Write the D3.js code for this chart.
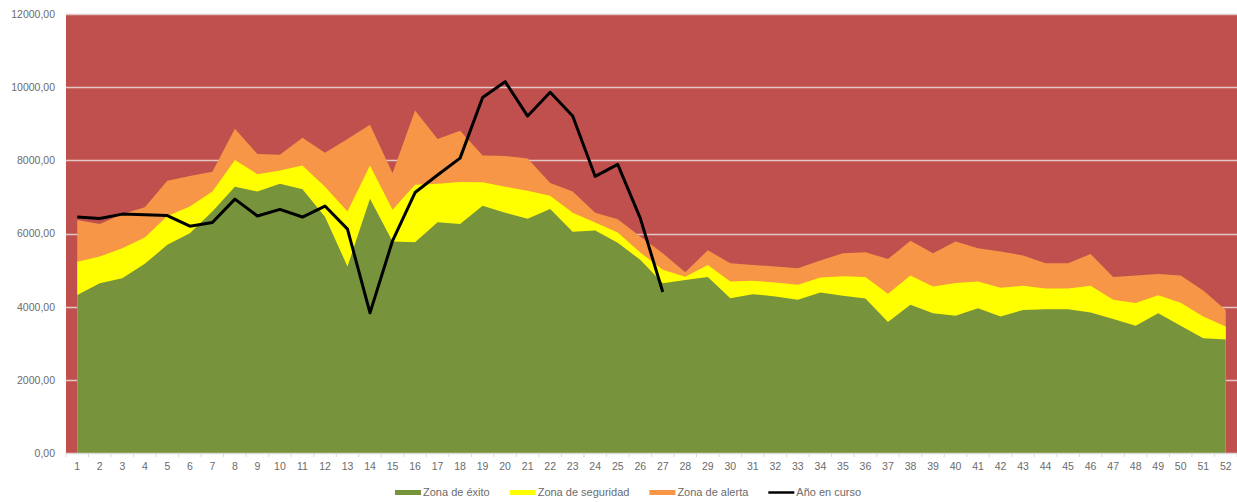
<html>
<head>
<meta charset="UTF-8">
<style>
  body { margin: 0; background: #fff; }
  .axis text { font: 10.5px "Liberation Sans", Arial, sans-serif; fill: #6b6b6b; }
  .legend text { font: 11px "Liberation Sans", Arial, sans-serif; fill: #6b6b6b; }
</style>
<script src="https://cdn.jsdelivr.net/npm/d3@7/dist/d3.min.js"></script>
</head>
<body>
<div class="chart"></div>
<script>

// semanas 1..52
var semanas = d3.range(1, 53);

// limite superior de cada zona
var zonaExito = [4320, 4640, 4780, 5170, 5690, 6010, 6600, 7280, 7150, 7360,
  7210, 6460, 5100, 6950, 5780, 5760, 6310, 6260, 6760, 6570,
  6400, 6670, 6050, 6080, 5750, 5280, 4640, 4730, 4810, 4230,
  4340, 4280, 4190, 4390, 4300, 4220, 3580, 4050, 3820, 3750,
  3960, 3730, 3910, 3930, 3930, 3840, 3660, 3480, 3820, 3480,
  3140, 3100];

var zonaSeguridad = [5230, 5370, 5600, 5890, 6480, 6740, 7150, 8010, 7620, 7720,
  7860, 7280, 6600, 7860, 6650, 7330, 7360, 7410, 7400, 7280,
  7170, 7030, 6570, 6300, 6030, 5480, 5010, 4820, 5140, 4690,
  4710, 4660, 4600, 4800, 4830, 4810, 4350, 4850, 4550, 4650,
  4690, 4520, 4570, 4500, 4500, 4570, 4190, 4100, 4310, 4110,
  3730, 3460];

var zonaAlerta = [6370, 6260, 6530, 6720, 7440, 7570, 7690, 8860, 8170, 8150,
  8620, 8210, 8580, 8970, 7650, 9360, 8580, 8810, 8130, 8120,
  8050, 7380, 7150, 6570, 6390, 5920, 5460, 4940, 5540, 5190,
  5140, 5100, 5050, 5260, 5460, 5490, 5300, 5800, 5460, 5780,
  5600, 5510, 5400, 5190, 5190, 5440, 4810, 4850, 4890, 4850,
  4440, 3910];

var anioEnCurso = [6450, 6410, 6530, 6510, 6490, 6200, 6300, 6940, 6480, 6660,
  6450, 6750, 6120, 3830, 5800, 7120, 7600, 8060, 9720, 10150,
  9210, 9860, 9210, 7560, 7890, 6420, 4400];

var yTicks = [0, 2000, 4000, 6000, 8000, 10000, 12000];

var leyenda = ["Zona de éxito", "Zona de seguridad", "Zona de alerta", "Año en curso"];
var colores = ["#77933c", "#ffff00", "#f79646", "#000000"];

var W = 1237, H = 502;
var margin = {top: 14, right: 0, bottom: 49, left: 66};

var svg = d3.select(".chart").append("svg")
    .attr("width", W)
    .attr("height", H);

var x = d3.scaleBand().domain(semanas).range([margin.left, W - margin.right]);
var y = d3.scaleLinear().domain([0, 12000]).range([H - margin.bottom, margin.top]);
var cx = function(i) { return x(semanas[i]) + x.bandwidth() / 2; };

// fondo rojo del area de trazado
svg.append("rect")
    .attr("x", margin.left)
    .attr("y", y(12000))
    .attr("width", W - margin.right - margin.left)
    .attr("height", y(0) - y(12000))
    .attr("fill", "#c0504d");

// lineas de division
svg.append("g")
    .selectAll("line")
    .data(yTicks.slice(1))
  .enter().append("line")
    .attr("x1", margin.left)
    .attr("x2", W - margin.right)
    .attr("y1", function(d) { return Math.round(y(d)) + 0.5; })
    .attr("y2", function(d) { return Math.round(y(d)) + 0.5; })
    .attr("stroke", "#e3c6c6")
    .attr("stroke-width", 1.3);

var area = d3.area()
    .x(function(d, i) { return cx(i); })
    .y0(y(0))
    .y1(function(d) { return y(d); });

svg.append("path").datum(zonaAlerta).attr("d", area).attr("fill", colores[2]);
svg.append("path").datum(zonaSeguridad).attr("d", area).attr("fill", colores[1]);
svg.append("path").datum(zonaExito).attr("d", area).attr("fill", colores[0]);

var line = d3.line()
    .x(function(d, i) { return cx(i); })
    .y(function(d) { return y(d); });

svg.append("path")
    .datum(anioEnCurso)
    .attr("d", line)
    .attr("fill", "none")
    .attr("stroke", "#000")
    .attr("stroke-width", 3)
    .attr("stroke-linejoin", "round");

// eje y
var yAxis = d3.axisLeft(y)
    .tickValues(yTicks)
    .tickSize(0)
    .tickPadding(11)
    .tickFormat(function(d) { return d3.format(".2f")(d).replace(".", ","); });

var gy = svg.append("g")
    .attr("class", "axis")
    .attr("transform", "translate(" + margin.left + ",0)")
    .call(yAxis);
gy.select(".domain").remove();

// eje x
var xAxis = d3.axisBottom(x).tickSize(0).tickPadding(10);
var gx = svg.append("g")
    .attr("class", "axis")
    .attr("transform", "translate(0," + y(0) + ")")
    .call(xAxis);
gx.select(".domain").attr("stroke", "#d9d9d9").attr("stroke-width", 1.5);

gx.selectAll(".sep")
    .data(semanas.concat([53]))
  .enter().append("line")
    .attr("class", "sep")
    .attr("x1", function(d) { return d <= 52 ? x(d) : x(52) + x.bandwidth(); })
    .attr("x2", function(d) { return d <= 52 ? x(d) : x(52) + x.bandwidth(); })
    .attr("y1", 0)
    .attr("y2", 4)
    .attr("stroke", "#d9d9d9");

// leyenda
var lg = svg.append("g").attr("class", "legend");
var lx = 395, ly = 492.5;
leyenda.forEach(function(name, i) {
  var g = lg.append("g").attr("transform", "translate(" + lx + "," + ly + ")");
  if (i < 3) {
    g.append("rect").attr("x", 0).attr("y", -2.5).attr("width", 26).attr("height", 5).attr("fill", colores[i]);
  } else {
    g.append("line").attr("x1", 0).attr("x2", 26).attr("y1", 0).attr("y2", 0)
      .attr("stroke", colores[i]).attr("stroke-width", 2.5);
  }
  var t = g.append("text").attr("x", 28).attr("y", 0).attr("dy", "0.35em").text(name);
  lx += 28 + t.node().getComputedTextLength() + 20;
});

</script>
</body>
</html>
